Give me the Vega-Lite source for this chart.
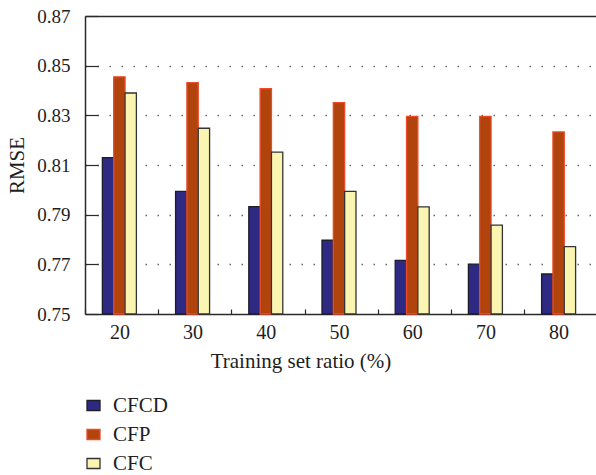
{
  "$schema": "https://vega.github.io/schema/vega-lite/v6.json",
  "autosize": {"type": "none"},
  "padding": {"left": 85, "top": 16, "right": 0, "bottom": 161},
  "width": 511,
  "height": 298,
  "background": "white",
  "config": {
    "font": "Liberation Serif",
    "view": {"stroke": null},
    "axis": {
      "labelFont": "Liberation Serif",
      "titleFont": "Liberation Serif",
      "labelColor": "#1e1e1e",
      "titleColor": "#1e1e1e",
      "titleFontWeight": "normal",
      "domainColor": "#2a2a2a",
      "domainWidth": 1.5,
      "tickColor": "#2a2a2a",
      "tickWidth": 1.2
    },
    "legend": {
      "labelFont": "Liberation Serif",
      "labelColor": "#1e1e1e"
    }
  },
  "data": {
    "values": [
      {"ratio": "20", "method": "CFCD", "rmse": 0.813},
      {"ratio": "20", "method": "CFP", "rmse": 0.8455},
      {"ratio": "20", "method": "CFC", "rmse": 0.839},
      {"ratio": "30", "method": "CFCD", "rmse": 0.7994},
      {"ratio": "30", "method": "CFP", "rmse": 0.8432},
      {"ratio": "30", "method": "CFC", "rmse": 0.8248},
      {"ratio": "40", "method": "CFCD", "rmse": 0.7932},
      {"ratio": "40", "method": "CFP", "rmse": 0.8407},
      {"ratio": "40", "method": "CFC", "rmse": 0.8152},
      {"ratio": "50", "method": "CFCD", "rmse": 0.7797},
      {"ratio": "50", "method": "CFP", "rmse": 0.8351},
      {"ratio": "50", "method": "CFC", "rmse": 0.7994},
      {"ratio": "60", "method": "CFCD", "rmse": 0.7716},
      {"ratio": "60", "method": "CFP", "rmse": 0.8296},
      {"ratio": "60", "method": "CFC", "rmse": 0.7931},
      {"ratio": "70", "method": "CFCD", "rmse": 0.7701},
      {"ratio": "70", "method": "CFP", "rmse": 0.8296},
      {"ratio": "70", "method": "CFC", "rmse": 0.7858},
      {"ratio": "80", "method": "CFCD", "rmse": 0.7661},
      {"ratio": "80", "method": "CFP", "rmse": 0.8233},
      {"ratio": "80", "method": "CFC", "rmse": 0.7771}
    ]
  },
  "mark": {"type": "bar", "strokeWidth": 1.3},
  "encoding": {
    "x": {
      "field": "ratio",
      "type": "nominal",
      "sort": ["20", "30", "40", "50", "60", "70", "80"],
      "scale": {"paddingInner": 0.5355, "paddingOuter": 0.258, "align": 0.46},
      "axis": {
        "title": "Training set ratio (%)",
        "titleFontSize": 21,
        "titleX": 215.5,
        "titleY": 53,
        "titleBaseline": "alphabetic",
        "labelAngle": 0,
        "labelFontSize": 20,
        "labelPadding": 13,
        "labelOffset": 34.4,
        "tickSize": -5,
        "tickOffset": -34.4
      }
    },
    "xOffset": {
      "field": "method",
      "type": "nominal",
      "sort": ["CFCD", "CFP", "CFC"],
      "scale": {"paddingInner": 0, "paddingOuter": 0}
    },
    "y": {
      "field": "rmse",
      "type": "quantitative",
      "scale": {"domain": [0.75, 0.87], "zero": false, "nice": false},
      "axis": {
        "title": "RMSE",
        "titleFontSize": 21,
        "titleX": -68,
        "titleY": 149,
        "titleBaseline": "middle",
        "values": [0.75, 0.77, 0.79, 0.81, 0.83, 0.85, 0.87],
        "format": ".2f",
        "labelFontSize": 19,
        "labelPadding": 28,
        "tickSize": -13,
        "grid": true,
        "gridDash": {"condition": {"test": "datum.value >= 0.869", "value": []}, "value": [1.5, 10.5]},
        "gridColor": {"condition": {"test": "datum.value >= 0.869", "value": "#2a2a2a"}, "value": "#666"},
        "gridWidth": {"condition": {"test": "datum.value >= 0.869", "value": 1.5}, "value": 1.3},
        "gridOpacity": {"condition": {"test": "datum.value <= 0.751", "value": 0}, "value": 1}
      }
    },
    "y2": {"datum": 0.75},
    "fill": {
      "field": "method",
      "type": "nominal",
      "scale": {"domain": ["CFCD", "CFP", "CFC"], "range": ["#2e2a84", "#b0440c", "#fbf5b2"]},
      "legend": {
        "title": null,
        "orient": "none",
        "legendX": -2,
        "legendY": 379,
        "padding": 0,
        "symbolType": "M-1,-0.77H1V0.77H-1Z",
        "symbolSize": 169,
        "symbolStrokeWidth": 1.3,
        "labelFontSize": 21,
        "labelOffset": 9,
        "rowPadding": 7
      }
    },
    "stroke": {
      "field": "method",
      "type": "nominal",
      "scale": {"domain": ["CFCD", "CFP", "CFC"], "range": ["#1e1e2a", "#ec4a2a", "#333333"]},
      "legend": null
    }
  }
}
